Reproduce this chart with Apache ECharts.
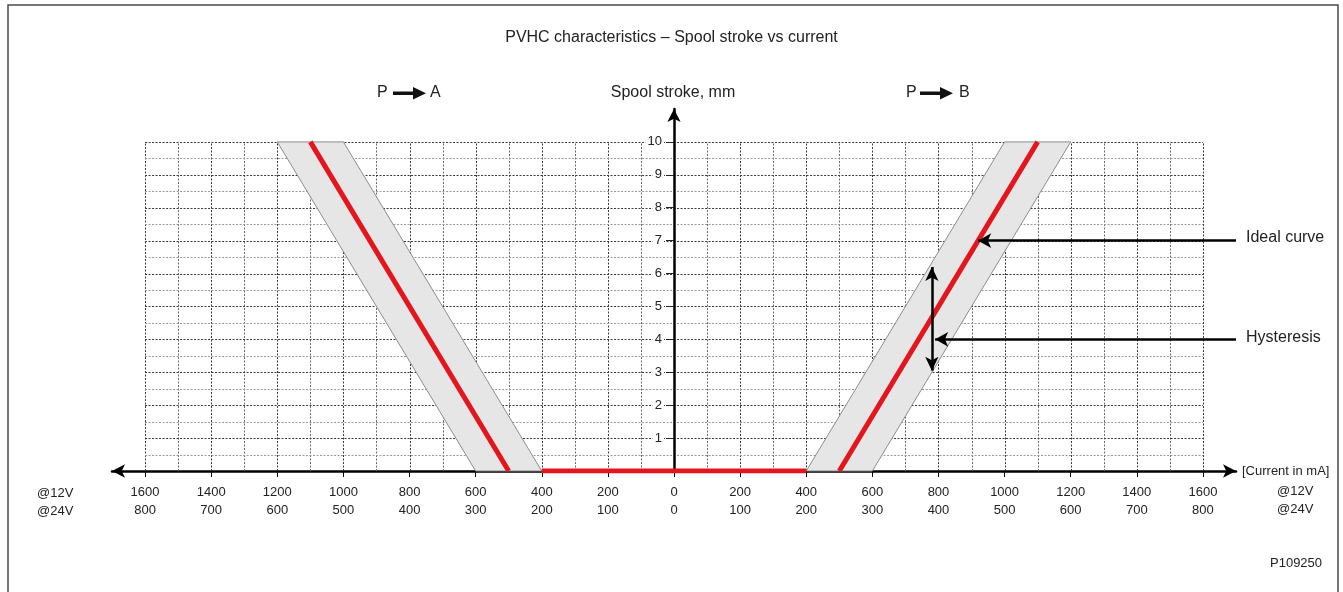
<!DOCTYPE html>
<html>
<head>
<meta charset="utf-8">
<script src="https://cdn.jsdelivr.net/npm/echarts@6/dist/echarts.min.js"></script>
<style>
html,body{margin:0;padding:0;background:#fff;}
#chart{width:1343px;height:592px;}
</style>
</head>
<body>
<div id="chart"></div>
<script>
// ---- Data ----
const currentTicks = [-1600,-1400,-1200,-1000,-800,-600,-400,-200,0,200,400,600,800,1000,1200,1400,1600];
const labels12V = ['1600','1400','1200','1000','800','600','400','200','0','200','400','600','800','1000','1200','1400','1600'];
const labels24V = ['800','700','600','500','400','300','200','100','0','100','200','300','400','500','600','700','800'];
const strokeTicks = [1,2,3,4,5,6,7,8,9,10];
const gridCurrent = [-1600,-1500,-1400,-1300,-1200,-1100,-1000,-900,-800,-700,-600,-500,-400,-300,-200,-100,0,100,200,300,400,500,600,700,800,900,1000,1100,1200,1300,1400,1500,1600];
const gridStroke = [0.5,1,1.5,2,2.5,3,3.5,4,4.5,5,5.5,6,6.5,7,7.5,8,8.5,9,9.5,10];

const flatCurrent = [-400, 400];
const flatStroke = [0, 0];
const idealLeftCurrent = [-500, -1100];
const idealLeftStroke = [0, 10];
const idealRightCurrent = [500, 1100];
const idealRightStroke = [0, 10];
const bandLeftCurrent = [-400, -1000, -1200, -600];
const bandLeftStroke = [0, 10, 10, 0];
const bandRightCurrent = [400, 1000, 1200, 600];
const bandRightStroke = [0, 10, 10, 0];

// annotation anchors (data units)
const idealNoteStroke = 7;
const hystNoteStroke = 4;
const hystCurrent = 780;
const hystRange = [3.05, 6.2];

const zip = (a, b) => a.map((v, i) => [v, b[i]]);

const chart = echarts.init(document.getElementById('chart'), null, {renderer: 'canvas'});
const FONT = '"Liberation Sans", Arial, sans-serif';
const RED = '#e3161e';
const GRID_LEFT = 112, GRID_RIGHT = 107;
const plotW = 1343 - GRID_LEFT - GRID_RIGHT;
const X_MIN = -1700, X_MAX = 1700;

function gridLineV(params, api) {
  const x = api.value(0);
  const p1 = api.coord([x, 0]);
  const p2 = api.coord([x, 10]);
  const px = Math.round(p1[0]) + 0.5;
  const major = Math.round(x) % 200 === 0;
  return {type: 'line', shape: {x1: px, y1: p1[1], x2: px, y2: p2[1]},
    style: {stroke: major ? '#3a3a3a' : '#6a6a6a', lineWidth: 1, lineDash: [2, 1.5]}};
}
function gridLineH(params, api) {
  const y = api.value(1);
  const p1 = api.coord([-1600, y]);
  const p2 = api.coord([1600, y]);
  const py = Math.round(p1[1]) + 0.5;
  const major = Math.abs(y - Math.round(y)) < 1e-6;
  return {type: 'line', shape: {x1: p1[0], y1: py, x2: p2[0], y2: py},
    style: {stroke: major ? '#3a3a3a' : '#9a9a9a', lineWidth: 1, lineDash: [2, 1.5]}};
}
function bandRenderer(xs, ys) {
  return function (params, api) {
    if (params.dataIndex !== 0) return null;
    const pts = xs.map((x, i) => api.coord([x, ys[i]]));
    return {type: 'polygon', shape: {points: pts},
      style: {fill: '#e6e6e6', stroke: '#8c8c8c', lineWidth: 1}};
  };
}

const slopeR = (idealRightCurrent[1] - idealRightCurrent[0]) / (idealRightStroke[1] - idealRightStroke[0]);
const idealTipX = idealRightCurrent[0] + slopeR * idealNoteStroke;
// place the vertical axis at current = 0
const yAxisOffset = -((0 - X_MIN) / (X_MAX - X_MIN)) * plotW;

const option = {
  animation: false,
  title: {
    text: 'PVHC characteristics \u2013 Spool stroke vs current',
    left: 'center', top: 25,
    textStyle: {fontFamily: FONT, fontSize: 16, fontWeight: 'normal', color: '#222'}
  },
  grid: {left: GRID_LEFT, right: GRID_RIGHT, top: 109, bottom: 121},
  xAxis: {
    type: 'value', min: X_MIN, max: X_MAX, interval: 100,
    splitLine: {show: false},
    axisLine: {onZero: false, symbol: ['arrow', 'arrow'], symbolSize: [10, 13],
      lineStyle: {color: '#000', width: 2.5}},
    axisTick: {show: true, customValues: currentTicks, length: 6, lineStyle: {color: '#000', width: 1}},
    axisLabel: {
      customValues: currentTicks, margin: 12,
      fontFamily: FONT, fontSize: 13, color: '#222', lineHeight: 18,
      formatter: function (v) {
        const i = currentTicks.indexOf(Math.round(v));
        return i < 0 ? '' : labels12V[i] + '\n' + labels24V[i];
      }
    }
  },
  yAxis: {
    type: 'value', min: 0, max: 11, interval: 1, z: 3,
    position: 'left', offset: yAxisOffset,
    splitLine: {show: false},
    axisLine: {onZero: false, symbol: ['none', 'arrow'], symbolSize: [10, 13],
      lineStyle: {color: '#000', width: 2.5}},
    axisTick: {show: true, customValues: strokeTicks, length: 8, lineStyle: {color: '#222', width: 1}},
    axisLabel: {
      customValues: strokeTicks, margin: 10,
      fontFamily: FONT, fontSize: 13, color: '#222',
      backgroundColor: '#fff', padding: [0, 2]
    }
  },
  series: [
    {type: 'custom', name: 'gridV', z: 1, silent: true, renderItem: gridLineV,
      data: gridCurrent.map(v => [v, 0])},
    {type: 'custom', name: 'gridH', z: 1, silent: true, renderItem: gridLineH,
      data: gridStroke.map(v => [0, v])},
    {type: 'custom', name: 'bandLeft', z: 2, silent: true,
      renderItem: bandRenderer(bandLeftCurrent, bandLeftStroke), data: zip(bandLeftCurrent, bandLeftStroke)},
    {type: 'custom', name: 'bandRight', z: 2, silent: true,
      renderItem: bandRenderer(bandRightCurrent, bandRightStroke), data: zip(bandRightCurrent, bandRightStroke)},
    {type: 'line', name: 'idealLeft', z: 4, symbol: 'none', data: zip(idealLeftCurrent, idealLeftStroke),
      lineStyle: {color: RED, width: 5}},
    {type: 'line', name: 'idealRight', z: 4, symbol: 'none', data: zip(idealRightCurrent, idealRightStroke),
      lineStyle: {color: RED, width: 5},
      markLine: {
        silent: true, symbol: ['none', 'arrow'], symbolSize: [11, 13],
        label: {show: false},
        lineStyle: {color: '#000', width: 2.5, type: 'solid'},
        data: [
          [{coord: [X_MAX, idealNoteStroke]}, {coord: [idealTipX, idealNoteStroke]}],
          [{coord: [X_MAX, hystNoteStroke]}, {coord: [hystCurrent + 10, hystNoteStroke]}],
          [{coord: [hystCurrent, hystRange[0]], symbol: 'arrow', symbolSize: [10, 14]},
           {coord: [hystCurrent, hystRange[1]], symbol: 'arrow', symbolSize: [10, 14]}]
        ]
      }},
    {type: 'line', name: 'flat', z: 4, symbol: 'none', data: zip(flatCurrent, flatStroke),
      lineStyle: {color: RED, width: 5}}
  ],
  graphic: [
    {type: 'rect', z: 100, silent: true, shape: {x: 8, y: 5, width: 1330, height: 595},
      style: {fill: 'none', stroke: '#4a4a4a', lineWidth: 1.5}},
    {type: 'text', x: 673, y: 93, style: {text: 'Spool stroke, mm', fontFamily: FONT, fontSize: 16, fill: '#222', align: 'center', verticalAlign: 'middle'}},
    {type: 'text', x: 377, y: 93, style: {text: 'P', fontFamily: FONT, fontSize: 16, fill: '#222', verticalAlign: 'middle'}},
    {type: 'rect', shape: {x: 393, y: 91.5, width: 22, height: 3.5}, style: {fill: '#111'}},
    {type: 'polygon', shape: {points: [[413, 87], [426, 93.2], [413, 99.5]]}, style: {fill: '#111'}},
    {type: 'text', x: 430, y: 93, style: {text: 'A', fontFamily: FONT, fontSize: 16, fill: '#222', verticalAlign: 'middle'}},
    {type: 'text', x: 906, y: 93, style: {text: 'P', fontFamily: FONT, fontSize: 16, fill: '#222', verticalAlign: 'middle'}},
    {type: 'rect', shape: {x: 920, y: 91.5, width: 22, height: 3.5}, style: {fill: '#111'}},
    {type: 'polygon', shape: {points: [[940, 87], [953, 93.2], [940, 99.5]]}, style: {fill: '#111'}},
    {type: 'text', x: 959, y: 93, style: {text: 'B', fontFamily: FONT, fontSize: 16, fill: '#222', verticalAlign: 'middle'}},
    {type: 'text', x: 1246, y: 238, style: {text: 'Ideal curve', fontFamily: FONT, fontSize: 16, fill: '#222', verticalAlign: 'middle'}},
    {type: 'text', x: 1246, y: 338, style: {text: 'Hysteresis', fontFamily: FONT, fontSize: 16, fill: '#222', verticalAlign: 'middle'}},
    {type: 'text', x: 1242, y: 471, style: {text: '[Current in mA]', fontFamily: FONT, fontSize: 13, fill: '#222', verticalAlign: 'middle'}},
    {type: 'text', x: 37, y: 484, style: {text: '@12V\n@24V', fontFamily: FONT, fontSize: 13, lineHeight: 18, fill: '#222'}},
    {type: 'text', x: 1277, y: 482, style: {text: '@12V\n@24V', fontFamily: FONT, fontSize: 13, lineHeight: 18, fill: '#222'}},
    {type: 'text', x: 1270, y: 563, style: {text: 'P109250', fontFamily: FONT, fontSize: 13, fill: '#222', verticalAlign: 'middle'}}
  ]
};
chart.setOption(option);
</script>
</body>
</html>
